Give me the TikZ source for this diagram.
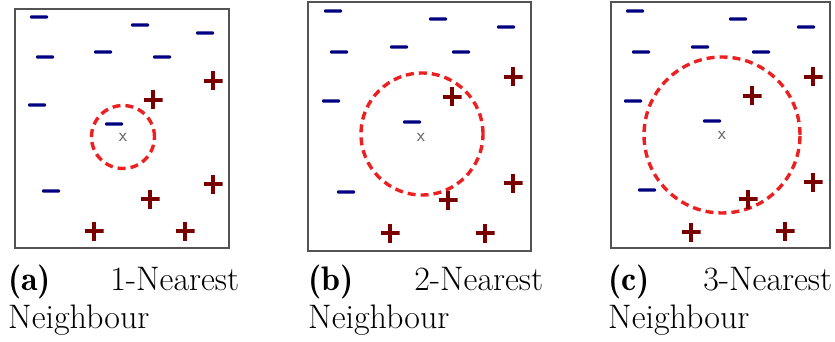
\documentclass[tikz,border=0pt]{standalone}
\usepackage{tikz}
\definecolor{negblue}{RGB}{0,0,128}
\definecolor{posred}{RGB}{122,0,0}
\definecolor{ringred}{RGB}{236,32,32}

\begin{document}
\begin{tikzpicture}[x=1pt, y=-1pt,
  panel/.style={draw=gray!65!black, line width=1.2pt, inner sep=0pt},
  minusmark/.style={fill=negblue, minimum width=18pt, minimum height=3.4pt,
              inner sep=0pt, rounded corners=1pt},
  plusmark/.style={minimum size=19pt, inner sep=0pt,
              path picture={\draw[posred, line width=3.8pt]
                (path picture bounding box.north) -- (path picture bounding box.south)
                (path picture bounding box.west) -- (path picture bounding box.east);}},
  ring/.style={circle, draw=ringred, line width=3.4pt, inner sep=0pt,
               dash pattern=on 8pt off 5pt},
  query/.style={font=\fontsize{19}{19}\selectfont\sffamily, text=gray!80!black,
                inner sep=0pt},
  subcap/.style={anchor=north west, align=justify, inner sep=0pt,
              font=\fontsize{34}{38}\selectfont}
]
\useasboundingbox (0,0) rectangle (835,342);

% (a) one neighbour
\node[panel, minimum width=214pt, minimum height=239pt] (boxa) at (122,128.5) {};
\node[ring, minimum size=63pt] (ringa) at (123,137) {};
\node[query] (qa) at (123,137) {x};
\foreach \x/\y [count=\i] in {39/17, 140/25, 205/33, 45/57, 103/52, 162/57,
                              37/105, 114/124, 51/191}
  \node[minusmark] (a-neg\i) at (\x,\y) {};
\foreach \x/\y [count=\i] in {213/81, 153/100, 213/184, 150/199, 94/231, 185/231}
  \node[plusmark] (a-pos\i) at (\x,\y) {};
\node[subcap, text width=231pt] (capa) at (8,265)
  {{\fontseries{b}\selectfont(a)} 1-Nearest Neighbour};

% (b) two neighbours
\node[panel, minimum width=223pt, minimum height=249pt] (boxb) at (419.5,126.5) {};
\node[ring, minimum size=122pt] (ringb) at (422,134) {};
\node[query] (qb) at (421,137) {x};
\foreach \x/\y [count=\i] in {333/11, 438/19, 506/27, 339/52, 399/47, 461/52,
                              331/101, 412/122, 346/192}
  \node[minusmark] (b-neg\i) at (\x,\y) {};
\foreach \x/\y [count=\i] in {513/77, 452/97, 513/183, 448/200, 390/233, 485/233}
  \node[plusmark] (b-pos\i) at (\x,\y) {};
\node[subcap, text width=235pt] (capb) at (308,265)
  {{\fontseries{b}\selectfont(b)} 2-Nearest Neighbour};

% (c) three neighbours
\node[panel, minimum width=219pt, minimum height=246pt] (boxc) at (720.5,125) {};
\node[ring, minimum size=156pt] (ringc) at (722,135) {};
\node[query] (qc) at (722,135) {x};
\foreach \x/\y [count=\i] in {635/11, 738/19, 806/27, 641/52, 700/47, 761/52,
                              633/101, 712/121, 647/190}
  \node[minusmark] (c-neg\i) at (\x,\y) {};
\foreach \x/\y [count=\i] in {813/77, 752/96, 813/182, 748/199, 691/232, 785/231}
  \node[plusmark] (c-pos\i) at (\x,\y) {};
\node[subcap, text width=224pt] (capc) at (608,265)
  {{\fontseries{b}\selectfont(c)} 3-Nearest Neighbour};
\end{tikzpicture}
\end{document}
